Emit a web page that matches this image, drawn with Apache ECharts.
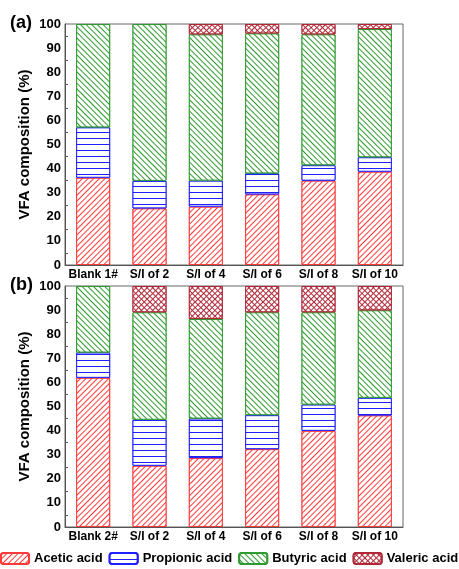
<!doctype html>
<html>
<head>
<meta charset="UTF-8">
<title>VFA composition</title>
<script src="https://cdn.jsdelivr.net/npm/echarts@6/dist/echarts.min.js"></script>
<style>
  html, body { margin: 0; padding: 0; background: #fff; }
  #main { width: 459px; height: 569px; }
</style>
</head>
<body>
<div id="main"></div>
<script>
// categories
var catsA = ['Blank 1#', 'S/I of 2', 'S/I of 4', 'S/I of 6', 'S/I of 8', 'S/I of 10'];
var catsB = ['Blank 2#', 'S/I of 2', 'S/I of 4', 'S/I of 6', 'S/I of 8', 'S/I of 10'];
var names = ['Acetic acid', 'Propionic acid', 'Butyric acid', 'Valeric acid'];

// panel (a), share of each acid (%)
var aceticA = [36.2, 23.5, 24.2, 29.3, 35.0, 38.7];
var propionicA = [20.9, 11.4, 10.8, 8.7, 6.4, 6.0];
var butyricA = [42.9, 65.1, 60.7, 58.1, 54.3, 53.2];
var valericA = [0, 0, 4.3, 3.9, 4.3, 2.1];

// panel (b)
var aceticB = [61.9, 25.4, 28.6, 32.3, 39.9, 46.3];
var propionicB = [10.5, 19.1, 16.4, 14.1, 10.9, 7.3];
var butyricB = [27.6, 44.6, 41.3, 42.7, 38.3, 36.3];
var valericB = [0, 10.9, 13.7, 10.9, 10.9, 10.1];

var FONT = '"Liberation Sans", Arial, sans-serif';

// hatch decals (line sets drawn by echarts)
var styles = [
    { border: '#ff3a3a', decal: { symbol: 'rect', symbolSize: 1, color: '#ff3a3a', backgroundColor: '#fff',
        dashArrayX: [1, 0], dashArrayY: [1, 3], rotation: -Math.PI / 4 } },
    { border: '#2020ff', decal: { symbol: 'rect', symbolSize: 1, color: '#2020ff', backgroundColor: '#fff',
        dashArrayX: [1, 0], dashArrayY: [1, 5], rotation: 0 } },
    { border: '#2f9a2f', decal: { symbol: 'rect', symbolSize: 1, color: '#2f9a2f', backgroundColor: '#fff',
        dashArrayX: [1, 0], dashArrayY: [1, 3], rotation: Math.PI / 4 } },
    { border: '#b02838', decal: { symbol: 'rect', symbolSize: 1, color: '#fff', backgroundColor: '#b02838',
        dashArrayX: [3, 1], dashArrayY: [3, 1], rotation: Math.PI / 4 } }
];

function clean(arr) {
    return arr.map(function (v) { return v > 0 ? v : '-'; });
}

var series = [];
var panels = [[aceticA, propionicA, butyricA, valericA], [aceticB, propionicB, butyricB, valericB]];
panels.forEach(function (p, pi) {
    p.forEach(function (vals, si) {
        series.push({
            name: names[si],
            type: 'bar',
            stack: 'p' + pi,
            xAxisIndex: pi,
            yAxisIndex: pi,
            barWidth: 34,
            data: clean(vals),
            itemStyle: {
                color: '#fff',
                borderColor: styles[si].border,
                borderWidth: 1,
                decal: styles[si].decal
            },
            emphasis: { disabled: true }
        });
    });
});

// main category axis: labels + ticks at bar centres
function xAxis(idx, cats) {
    return {
        type: 'category',
        gridIndex: idx,
        position: 'bottom',
        data: cats,
        axisLine: { lineStyle: { color: '#555' } },
        axisTick: { inside: true, length: 4, alignWithLabel: true, lineStyle: { color: '#555' } },
        axisLabel: { color: '#000', fontWeight: 'bold', fontSize: 12, fontFamily: FONT, margin: 4, interval: 0 }
    };
}

// second axis only for the short ticks between categories
function xAxisMinor(idx, cats) {
    return {
        type: 'category',
        gridIndex: idx,
        position: 'bottom',
        data: cats,
        axisLine: { show: false },
        axisTick: { inside: true, length: 2, lineStyle: { color: '#555' } },
        axisLabel: { show: false }
    };
}

function yAxis(idx) {
    return {
        type: 'value',
        gridIndex: idx,
        min: 0,
        max: 100,
        interval: 10,
        name: 'VFA composition (%)',
        nameLocation: 'middle',
        nameGap: 33,
        nameMoveOverlap: false,
        nameTextStyle: { color: '#000', fontWeight: 'bold', fontSize: 15, fontFamily: FONT },
        axisLine: { show: true, lineStyle: { color: '#555' } },
        axisTick: { inside: true, length: 5, lineStyle: { color: '#555' } },
        minorTick: { show: true, splitNumber: 2, length: 3, lineStyle: { color: '#555' } },
        splitLine: { show: false },
        axisLabel: { color: '#000', fontWeight: 'bold', fontSize: 13, fontFamily: FONT, margin: 4 }
    };
}

var myChart = echarts.init(document.getElementById('main'));

var option = {
    backgroundColor: '#fff',
    animation: false,
    grid: [
        { left: 65, right: 56, top: 24, height: 241, show: true, borderColor: '#666', borderWidth: 1 },
        { left: 65, right: 56, top: 286, height: 241, show: true, borderColor: '#666', borderWidth: 1 }
    ],
    xAxis: [xAxis(0, catsA), xAxis(1, catsB), xAxisMinor(0, catsA), xAxisMinor(1, catsB)],
    yAxis: [yAxis(0), yAxis(1)],
    legend: {
        data: names,
        left: 0,
        top: 552,
        width: 480,
        itemWidth: 28,
        itemHeight: 11,
        itemGap: 6,
        padding: 0,
        textStyle: { color: '#000', fontWeight: 'bold', fontSize: 13, fontFamily: FONT }
    },
    graphic: [
        { type: 'text', left: 10, top: 14, style: { text: '(a)', font: 'bold 18px ' + FONT, fill: '#000' } },
        { type: 'text', left: 10, top: 276, style: { text: '(b)', font: 'bold 18px ' + FONT, fill: '#000' } }
    ],
    series: series
};

myChart.setOption(option);
</script>
</body>
</html>
